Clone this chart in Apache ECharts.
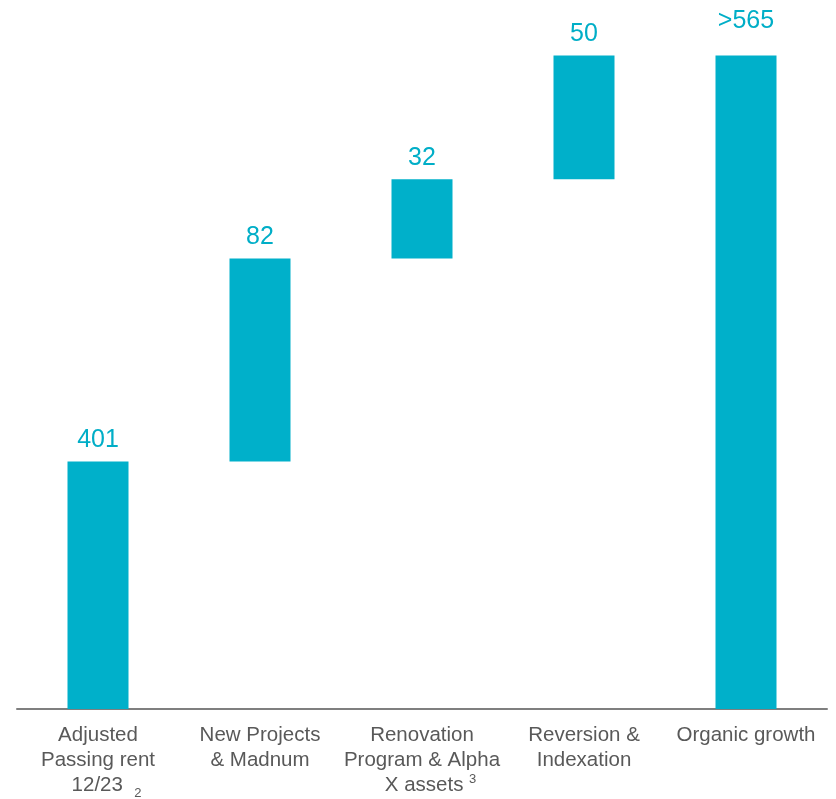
<!DOCTYPE html>
<html>
<head>
<meta charset="utf-8">
<script src="https://cdn.jsdelivr.net/npm/echarts@6/dist/echarts.min.js"></script>
<style>
  html, body { margin: 0; padding: 0; background: #fff; }
  #chart { width: 836px; height: 799px; }
</style>
</head>
<body>
<div id="chart"></div>
<script>
var categories = [
  'Adjusted\nPassing rent\n   12/23  {sub|2}',
  'New Projects\n& Madnum',
  'Renovation\nProgram & Alpha\n   X assets {sup|3}',
  'Reversion &\nIndexation',
  'Organic growth'
];
var baseValues = [0, 401, 483, 515, 0];
var stepValues = [401, 82, 32, 50, 565];
var stepLabels = ['401', '82', '32', '50', '>565'];

var chart = echarts.init(document.getElementById('chart'));

var stepData = stepValues.map(function (v, i) {
  var item = { value: v };
  // the total's label sits higher than the others
  if (i === stepValues.length - 1) item.label = { distance: 22 };
  return item;
});

var option = {
  animation: false,
  grid: { left: 17, right: 9, top: 17, bottom: 90, outerBoundsMode: 'none', containLabel: false },
  xAxis: {
    type: 'category',
    data: categories,
    axisLine: { lineStyle: { color: '#7F7F7F', width: 2 } },
    axisTick: { show: false },
    axisLabel: {
      interval: 0,
      margin: 14,
      color: '#595959',
      fontSize: 20.5,
      lineHeight: 25,
      fontFamily: 'Liberation Sans, Arial, sans-serif',
      rich: {
        sub: { fontSize: 13, color: '#595959', padding: [16, 0, 0, 0] },
        sup: { fontSize: 13, color: '#595959', padding: [0, 0, 12, 0] }
      }
    }
  },
  yAxis: {
    type: 'value',
    min: 301,
    max: 580.5,
    show: false,
    splitLine: { show: false }
  },
  series: [
    {
      type: 'bar',
      stack: 'w',
      data: baseValues,
      itemStyle: { color: 'transparent' },
      silent: true,
      barWidth: 61
    },
    {
      type: 'bar',
      stack: 'w',
      data: stepData,
      barWidth: 61,
      itemStyle: { color: '#00B0CA' },
      label: {
        show: true,
        position: 'top',
        distance: 9,
        color: '#00AEC7',
        fontSize: 25,
        fontFamily: 'Liberation Sans, Arial, sans-serif',
        formatter: function (p) { return stepLabels[p.dataIndex]; }
      }
    }
  ]
};

chart.setOption(option);
</script>
</body>
</html>
